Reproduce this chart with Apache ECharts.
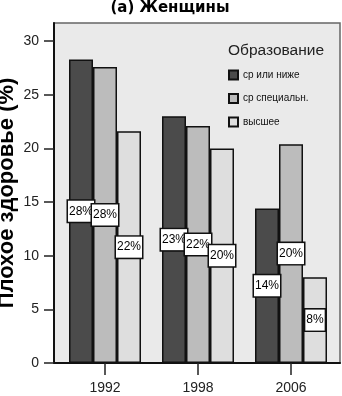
<!DOCTYPE html>
<html>
<head>
<meta charset="utf-8">
<script src="https://cdn.jsdelivr.net/npm/echarts@6/dist/echarts.min.js"></script>
<style>
html,body{margin:0;padding:0;background:#fff;}
#c{width:342px;height:396px;}
</style>
</head>
<body>
<div id="c"></div>
<script>
var categories = ['1992', '1998', '2006'];
var seriesNames = ['ср или ниже', 'ср специальн.', 'высшее'];
var lowEdu = [28.3, 23.0, 14.4];
var midEdu = [27.6, 22.1, 20.4];
var highEdu = [21.6, 20.0, 8.0];
var yTicks = [0, 5, 10, 15, 20, 25, 30];
var yMax = 31.7;

var colors = ['#4b4b4b', '#bcbcbc', '#dedede'];
var sans = '"Liberation Sans", Arial, sans-serif';

function makeSeries(name, data, color) {
  return {
    name: name,
    type: 'bar',
    xAxisIndex: 0,
    yAxisIndex: 0,
    data: data,
    barWidth: 24,
    barGap: '0%',
    itemStyle: { color: color, borderColor: '#111', borderWidth: 1.5 },
    label: {
      show: true,
      position: 'inside',
      formatter: function (p) { return Math.round(p.value) + '%'; },
      color: '#000',
      fontFamily: sans,
      fontSize: 12,
      backgroundColor: '#fff',
      borderColor: '#111',
      borderWidth: 1.5,
      padding: [5, 1, 4, 1]
    }
  };
}

var chart = echarts.init(document.getElementById('c'), null, { renderer: 'canvas' });
chart.setOption({
  animation: false,
  backgroundColor: '#fff',
  title: [
    {
      text: '(a) Женщины',
      left: 170, top: 1, padding: 0,
      textAlign: 'center',
      textStyle: { fontFamily: '"DejaVu Sans", sans-serif', fontWeight: 'bold', fontSize: 15, color: '#000' }
    },
    {
      text: 'Образование',
      left: 228, top: 43, padding: 0,
      textStyle: { fontFamily: sans, fontWeight: 'normal', fontSize: 15.5, color: '#222' }
    }
  ],
  legend: {
    orient: 'vertical',
    left: 228, top: 69, padding: 0,
    itemWidth: 9, itemHeight: 9,
    itemGap: 11.5,
    icon: 'rect',
    data: seriesNames,
    textStyle: { fontFamily: sans, fontWeight: 'normal', fontSize: 10, lineHeight: 12, color: '#111' }
  },
  grid: [
    { left: 58.5, right: 4.5, top: 23, bottom: 33, containLabel: false, outerBoundsMode: 'none' },
    { left: 54, right: 2, top: 23, bottom: 33, show: true, backgroundColor: '#eaeaea', borderColor: '#666', borderWidth: 1.5, z: -1, outerBoundsMode: 'none' }
  ],
  xAxis: [
    {
      type: 'category', gridIndex: 0, data: categories,
      axisLine: { show: false },
      axisTick: { show: true, alignWithLabel: true, length: 12, lineStyle: { color: '#222', width: 1.5 } },
      axisLabel: { margin: 18, fontFamily: sans, fontSize: 14, color: '#222' }
    },
    {
      type: 'value', gridIndex: 1, min: 0, max: 1,
      axisLine: { show: true, lineStyle: { color: '#111', width: 2 } },
      axisTick: { show: false }, axisLabel: { show: false }, splitLine: { show: false }
    }
  ],
  yAxis: [
    { type: 'value', gridIndex: 0, min: 0, max: yMax, show: false },
    {
      type: 'value', gridIndex: 1, min: 0, max: yMax,
      name: 'Плохое здоровье (%)',
      nameLocation: 'middle',
      nameGap: 36,
      nameMoveOverlap: false,
      nameTextStyle: { fontFamily: sans, fontWeight: 'bold', fontSize: 22, color: '#000' },
      axisLine: { show: true, lineStyle: { color: '#111', width: 2 } },
      axisTick: { show: true, length: 10, customValues: yTicks, lineStyle: { color: '#222', width: 1.5 } },
      axisLabel: { margin: 15, customValues: yTicks, fontFamily: sans, fontSize: 14, color: '#222' },
      splitLine: { show: false }
    }
  ],
  series: [
    makeSeries(seriesNames[0], lowEdu, colors[0]),
    makeSeries(seriesNames[1], midEdu, colors[1]),
    makeSeries(seriesNames[2], highEdu, colors[2])
  ]
});
</script>
</body>
</html>
